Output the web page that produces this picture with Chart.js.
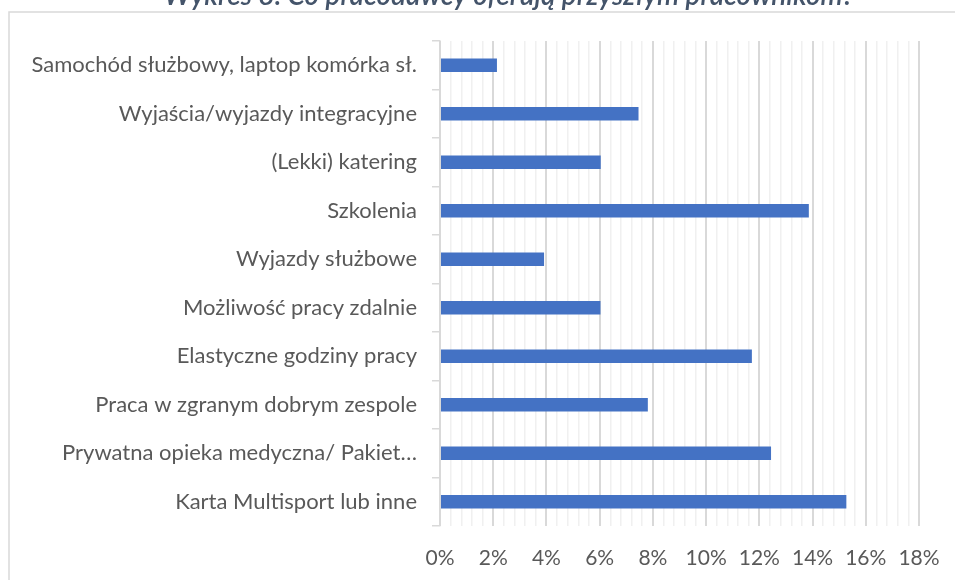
<!DOCTYPE html>
<html>
<head>
<meta charset="utf-8">
<script src="https://cdn.jsdelivr.net/npm/chart.js@4.4.0/dist/chart.umd.min.js"></script>
<style>
  html, body { margin: 0; padding: 0; background: #fff; overflow: hidden; }
  #wrap { position: relative; width: 955px; height: 580px; }
</style>
</head>
<body>
<div id="wrap"><canvas id="mycanvas"></canvas></div>
<script>
// dane z wykresu (kolejnosc od gory)
var title = "Wykres 8. Co pracodawcy oferują przyszłym pracownikom?";
var labels = [
  "Samochód służbowy, laptop komórka sł.",
  "Wyjaścia/wyjazdy integracyjne",
  "(Lekki) katering",
  "Szkolenia",
  "Wyjazdy służbowe",
  "Możliwość pracy zdalnie",
  "Elastyczne godziny pracy",
  "Praca w zgranym dobrym zespole",
  "Prywatna opieka medyczna/ Pakiet…",
  "Karta Multisport lub inne"
];
var values = [2.14, 7.46, 6.04, 13.86, 3.91, 6.03, 11.72, 7.81, 12.44, 15.27];
var axisMax = 18;
var majorStep = 2;
var minorStep = 0.4;

function isMajor(v) {
  return Math.abs(v / majorStep - Math.round(v / majorStep)) < 1e-6;
}

// ramka obszaru wykresu + tytul
var frame = {
  id: 'frame',
  beforeDraw: function(chart) {
    var c = chart.ctx;
    c.save();
    c.strokeStyle = '#D9D9D9';
    c.lineWidth = 1.5;
    c.strokeRect(9, 12, 960, 600);
    c.restore();
  },
  afterDraw: function(chart) {
    var c = chart.ctx;
    c.save();
    c.font = 'italic 600 28px Lato';
    c.fillStyle = '#44546A';
    c.textAlign = 'center';
    c.textBaseline = 'alphabetic';
    c.fillText(title, 509, 5);
    c.restore();
  }
};

var ctx = document.getElementById("mycanvas");
var chart = new Chart(ctx, {
  type: 'bar',
  data: {
    labels: labels,
    datasets: [{
      label: title,
      data: values,
      backgroundColor: '#4472C4',
      categoryPercentage: 1,
      barPercentage: 0.275
    }]
  },
  plugins: [frame],
  options: {
    indexAxis: 'y',
    responsive: true,
    maintainAspectRatio: false,
    animation: false,
    layout: { padding: { left: 10, right: 36, top: 41, bottom: 0 } },
    plugins: {
      legend: { display: false },
      title: { display: false },
      tooltip: { enabled: false }
    },
    scales: {
      x: {
        min: 0,
        max: axisMax,
        afterFit: function(s) { s.height = 54; s.paddingRight = 0; s.paddingLeft = 0; },
        border: { display: false },
        grid: {
          drawTicks: false,
          color: function(c) { return isMajor(c.tick.value) ? '#D9D9D9' : '#F0F0F0'; },
          lineWidth: function(c) { return isMajor(c.tick.value) ? 2 : 1.5; }
        },
        ticks: {
          stepSize: minorStep,
          autoSkip: false,
          maxRotation: 0,
          padding: 20,
          color: '#595959',
          font: { family: 'Lato', size: 21 },
          callback: function(v) { return isMajor(v) ? Math.round(v) + '%' : ''; }
        }
      },
      y: {
        afterFit: function(s) { s.width = 430; },
        border: { color: '#D9D9D9', width: 1.5 },
        grid: {
          drawOnChartArea: false,
          drawTicks: true,
          tickLength: 8,
          color: '#D9D9D9',
          lineWidth: 1.5
        },
        ticks: {
          padding: 15,
          color: '#595959',
          font: { family: 'Lato', size: 22 }
        }
      }
    }
  }
});
</script>
</body>
</html>
